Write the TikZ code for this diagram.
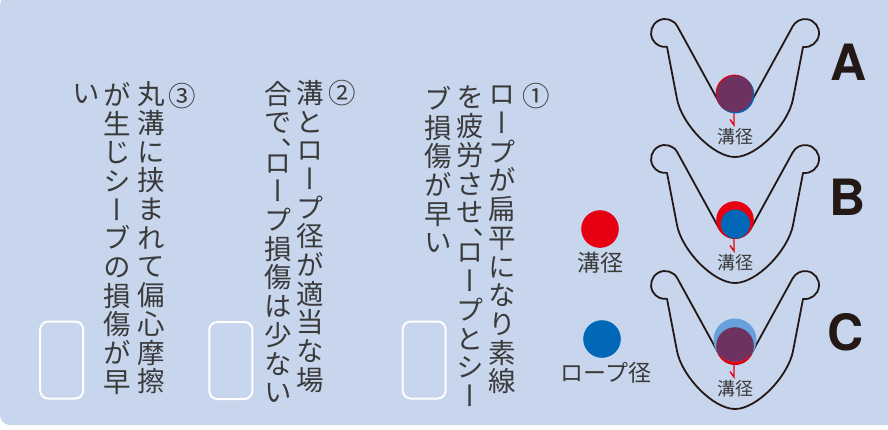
\documentclass[tikz,border=0pt]{standalone}
\usepackage{fontspec}
\usepackage{xcolor}
\usetikzlibrary{positioning}

\newfontfamily\jpfont{Noto Sans CJK JP}
\newfontfamily\jptate[RawFeature=+vert]{Noto Sans CJK JP}
\newfontfamily\headfont{TeX Gyre Heros}

\definecolor{panelblue}{RGB}{199,214,237}
\definecolor{inkgray}{RGB}{58,58,58}
\definecolor{outline}{RGB}{35,24,21}
\definecolor{groovered}{RGB}{230,0,18}
\definecolor{ropeblue}{RGB}{0,104,183}
\definecolor{ropelight}{RGB}{102,161,219}
\definecolor{overlap}{RGB}{110,50,96}

% one glyph per line, top to bottom
\makeatletter
\def\tate@comma{、}
\newcommand\tatebox[1]{%
  \vbox{\lineskiplimit=-\maxdimen
    \@tfor\tate@ch:=#1\do{%
      \hbox to 1em{\hss\tate@ch\hss}%
      \ifx\tate@ch\tate@comma\vskip-.6\baselineskip\fi}}}
\makeatother

\begin{document}
\begin{tikzpicture}[x=1pt,y=-1pt,
  tatecol/.style={anchor=north, inner sep=0pt, text=inkgray,
    font=\jptate\fontsize{27.5}{28.7}\selectfont},
  answerbox/.style={draw=white, line width=2pt, rounded corners=8pt,
    minimum width=43pt, minimum height=77pt, inner sep=0pt},
  legdot/.style={circle, minimum size=37.6pt, inner sep=0pt},
  leglabel/.style={inner sep=0pt, text=inkgray,
    font=\jpfont\fontsize{23}{23}\selectfont},
  groovelabel/.style={inner sep=0pt, text=inkgray,
    font=\jpfont\fontsize{18}{18}\selectfont},
  sheavetag/.style={inner sep=0pt, text=outline,
    font=\headfont\bfseries\fontsize{50}{50}\selectfont},
  sheaveline/.style={draw=outline, line width=1.8pt, line join=round},
  tickline/.style={draw=groovered, line width=1.4pt},
  pics/sheave/.style={code={
    \draw[sheaveline] (-57.6,-67.6) arc[start angle=-28, end angle=-278, radius=14]
      -- (-58,5) .. controls (-53.25,30) and (-22,63) .. (0,63)
      .. controls (22,63) and (53.25,30) .. (58,5)
      -- (68.05,-47.1) arc[start angle=98, end angle=-152, radius=14]
      -- (15.9,8.45) arc[start angle=28, end angle=152, radius=18] -- cycle;
    \draw[tickline] (-1,18.8) -- (-1,31) -- (-5,25.5);
    \node[groovelabel] (-lab) at (0,43) {溝径};
  }},
]
\useasboundingbox (0,0) rectangle (888,429);
\fill[white] (0,0) rectangle (888,429);
\fill[panelblue, rounded corners=10pt] (0,-5) rectangle (910,425);

% item 1
\node[tatecol] (n1) at (536,83) {\tatebox{①}};
\node[tatecol] (t1a) at (502,86) {\tatebox{ロープが扁平になり素線}};
\node[tatecol] (t1b) at (470.5,86) {\tatebox{を疲労させ、ロープとシー}};
\node[tatecol] (t1c) at (438.5,86) {\tatebox{ブ損傷が早い}};
\node[answerbox] (box1) at (424.2,360) {};

% item 2
\node[tatecol] (n2) at (342,80) {\tatebox{②}};
\node[tatecol] (t2a) at (310,80) {\tatebox{溝とロープ径が適当な場}};
\node[tatecol] (t2b) at (278.3,81) {\tatebox{合で、ロープ損傷は少ない}};
\node[answerbox] (box2) at (230.8,360.5) {};

% item 3
\node[tatecol] (n3) at (182,83) {\tatebox{③}};
\node[tatecol] (t3a) at (150.8,81.5) {\tatebox{丸溝に挟まれて偏心摩擦}};
\node[tatecol] (t3b) at (117.5,82) {\tatebox{が生じシーブの損傷が早}};
\node[tatecol] (t3c) at (85.8,84) {\tatebox{い}};
\node[answerbox] (box3) at (61.7,360) {};

% legend
\node[legdot, fill=groovered] (dotgroove) at (600,229) {};
\node[leglabel, below=4pt of dotgroove] (labgroove) {溝径};
\node[legdot, fill=ropeblue] (dotrope) at (602,339) {};
\node[leglabel, below=4pt of dotrope, xshift=4pt] (labrope) {ロープ径};

% sheaves
\pic (A) at (735,94) {sheave};
\pic (B) at (735,220) {sheave};
\pic (C) at (735,346) {sheave};

% A: same size
\fill[groovered] (734.4,93.4) circle (18.8);
\fill[ropeblue] (735.6,94.6) circle (18.8);
\begin{scope}
  \clip (734.4,93.4) circle (18.8);
  \fill[overlap] (735.6,94.6) circle (18.8);
\end{scope}

% B: rope too thin
\fill[groovered] (735,220) circle (18.8);
\fill[ropeblue] (735.5,224) circle (14.5);

% C: rope too thick
\fill[groovered] (735,346) circle (18.8);
\fill[ropelight] (735,340) circle (21.5);
\begin{scope}
  \clip (735,346) circle (18.8);
  \fill[overlap] (735,340) circle (21.5);
\end{scope}

\node[sheavetag] (tagA) at (849,62) {A};
\node[sheavetag] (tagB) at (848,197) {B};
\node[sheavetag] (tagC) at (846,332) {C};
\end{tikzpicture}
\end{document}
